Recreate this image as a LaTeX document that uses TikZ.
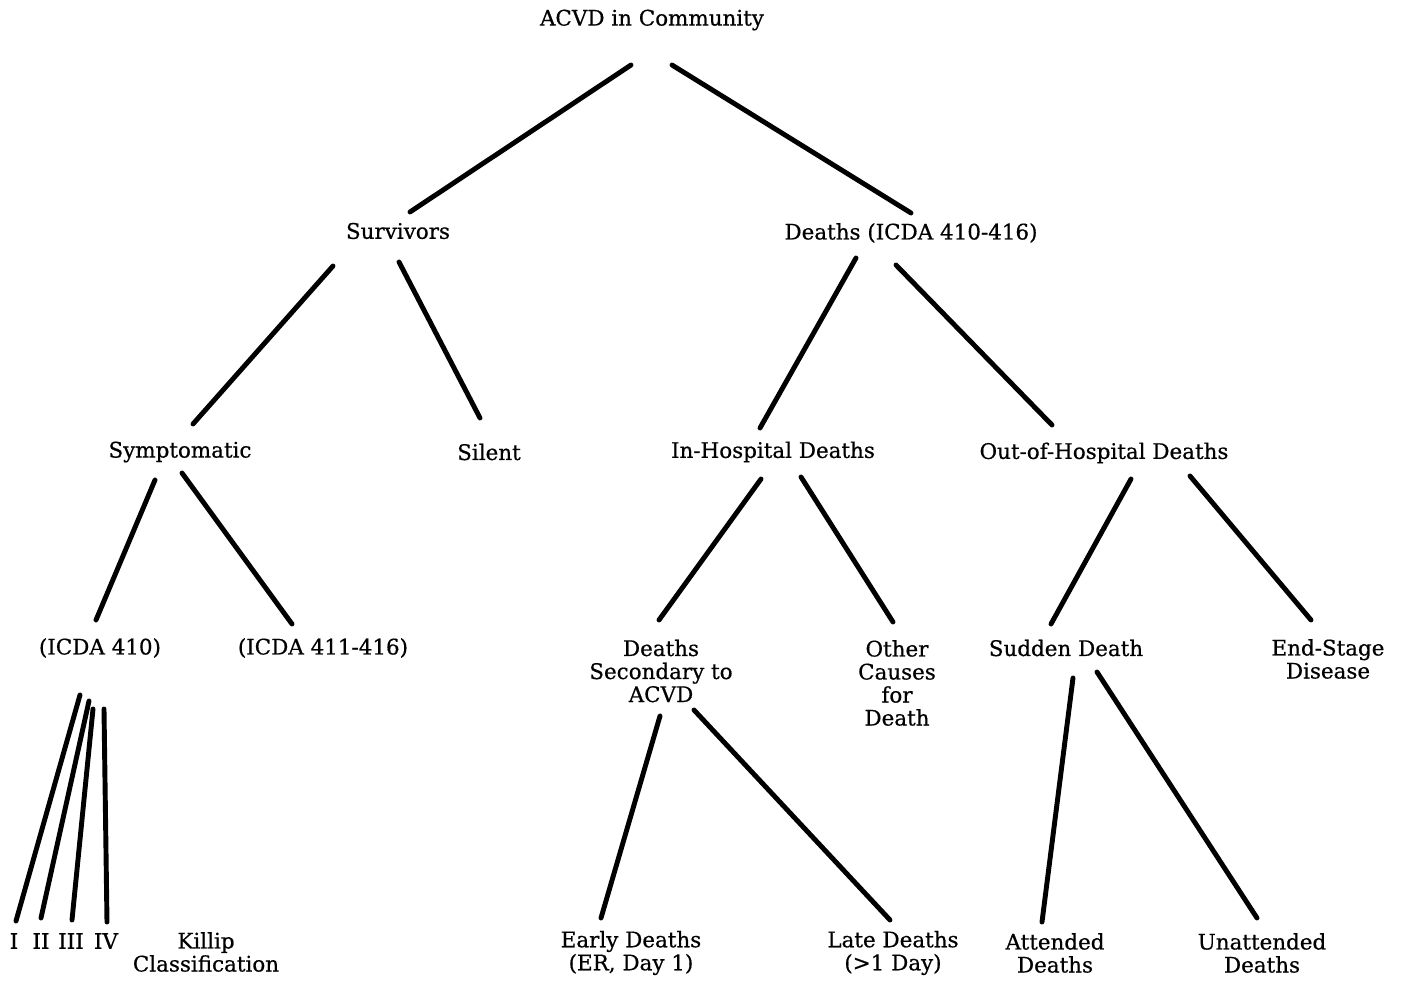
\documentclass[tikz,border=0pt]{standalone}
\usepackage{fontspec}
\setmainfont[FakeBold=0.6]{DejaVu Serif}
\usepackage{tikz}
\usetikzlibrary{calc}
\tikzset{lbl/.style={align=center,inner sep=0pt,font=\fontsize{12.2}{13.1}\selectfont}}
\tikzset{br/.style={line width=2.8pt,line cap=round}}

\begin{document}
\begin{tikzpicture}[x=0.02cm,y=-0.02cm]
    \useasboundingbox (0,0) rectangle (1403,983);

    \node[lbl] (acvd) at (652,20) {ACVD in Community};
    \node[lbl] (surv) at (398,231) {Survivors};
    \node[lbl] (dead) at (911,233) {Deaths (ICDA 410-416)};
    \node[lbl] (symp) at (180,452) {Symptomatic};
    \node[lbl] (sil) at (489,452) {Silent};
    \node[lbl] (inh) at (773,452) {In-Hospital Deaths};
    \node[lbl] (outh) at (1104,453) {Out-of-Hospital Deaths};
    \node[lbl] (ia) at (100,648) {(ICDA 410)};
    \node[lbl] (ib) at (323,648) {(ICDA 411-416)};
    \node[lbl] (sec) at (661,671) {Deaths\\Secondary to\\ACVD};
    \node[lbl] (oth) at (897,683) {Other\\Causes\\for\\Death};
    \node[lbl] (sud) at (1066,648) {Sudden Death};
    \node[lbl] (esd) at (1328,659) {End-Stage\\Disease};
    \node[lbl] (k1) at (14,941) {I};
    \node[lbl] (k2) at (41,941) {II};
    \node[lbl] (k3) at (71,941) {III};
    \node[lbl] (k4) at (106,941) {IV};
    \node[lbl] (kil) at (206,952) {Killip\\Classification};
    \node[lbl] (early) at (631,953) {Early Deaths\\(ER, Day 1)};
    \node[lbl] (late) at (893,953) {Late Deaths\\(>1 Day)};
    \node[lbl] (att) at (1055,953) {Attended\\Deaths};
    \node[lbl] (unatt) at (1262,953) {Unattended\\Deaths};

    \draw [br] ($(acvd)+(-21,45)$) to [] ($(surv)+(12,-19)$);
    \draw [br] ($(acvd)+(20,45)$) to [] ($(dead)+(0,-20)$);
    \draw [br] ($(surv)+(-65,35)$) to [] ($(symp)+(13,-28)$);
    \draw [br] ($(surv)+(1,31)$) to [] ($(sil)+(-9,-34)$);
    \draw [br] ($(dead)+(-55,25)$) to [] ($(inh)+(-13,-24)$);
    \draw [br] ($(dead)+(-15,32)$) to [] ($(outh)+(-52,-28)$);
    \draw [br] ($(symp)+(-25,28)$) to [] ($(ia)+(-4,-28)$);
    \draw [br] ($(symp)+(2,21)$) to [] ($(ib)+(-31,-24)$);
    \draw [br] ($(inh)+(-12,27)$) to [] ($(sec)+(-2,-51)$);
    \draw [br] ($(inh)+(28,25)$) to [] ($(oth)+(-4,-61)$);
    \draw [br] ($(outh)+(27,26)$) to [] ($(sud)+(-15,-24)$);
    \draw [br] ($(outh)+(86,23)$) to [] ($(esd)+(-17,-39)$);
    \draw [br] ($(ia)+(-20,47)$) to [] ($(k1)+(2,-20)$);
    \draw [br] ($(ia)+(-11,53)$) to [] ($(k2)+(0,-23)$);
    \draw [br] ($(ia)+(-7,61)$) to [] ($(k3)+(1,-21)$);
    \draw [br] ($(ia)+(4,61)$) to [] ($(k4)+(1,-19)$);
    \draw [br] ($(sec)+(-1,45)$) to [] ($(early)+(-30,-35)$);
    \draw [br] ($(sec)+(33,39)$) to [] ($(late)+(-3,-33)$);
    \draw [br] ($(sud)+(7,30)$) to [] ($(att)+(-13,-31)$);
    \draw [br] ($(sud)+(31,24)$) to [] ($(unatt)+(-5,-35)$);
\end{tikzpicture}
\end{document}
